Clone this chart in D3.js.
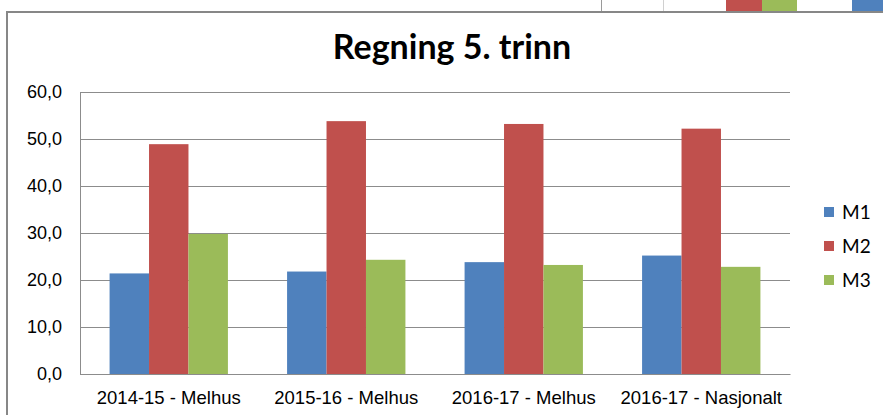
<!DOCTYPE html>
<html>
<head>
<meta charset="utf-8">
<script src="https://cdn.jsdelivr.net/npm/d3@7"></script>
<style>
  body { margin: 0; background: #fff; }
  svg { display: block; font-family: Lato, "Open Sans", sans-serif; }
</style>
</head>
<body>
<script>
// data
var categories = ["2014-15 - Melhus", "2015-16 - Melhus", "2016-17 - Melhus", "2016-17 - Nasjonalt"];
var seriesNames = ["M1", "M2", "M3"];
var m1 = [21.4, 21.8, 23.8, 25.2];
var m2 = [48.9, 53.8, 53.2, 52.2];
var m3 = [29.8, 24.3, 23.2, 22.8];
var yTicks = [0, 10, 20, 30, 40, 50, 60];
var colors = ["#4F81BD", "#C0504D", "#9BBB59"];

var W = 883, H = 415;
var margin = {top: 92, right: 93, bottom: 41, left: 80},
    width = W - margin.left - margin.right,
    height = H - margin.top - margin.bottom;

var svg = d3.select("body").append("svg")
    .attr("width", W)
    .attr("height", H);

// bits of the sheet above the chart
var strip = svg.append("g");
strip.append("line").attr("x1", 601.5).attr("x2", 601.5).attr("y1", 0).attr("y2", 11).attr("stroke", "#9a9a9a");
strip.append("line").attr("x1", 663.5).attr("x2", 663.5).attr("y1", 0).attr("y2", 11).attr("stroke", "#d0d0d0");
strip.append("rect").attr("x", 726).attr("y", 0).attr("width", 36).attr("height", 11).attr("fill", colors[1]);
strip.append("rect").attr("x", 762).attr("y", 0).attr("width", 35).attr("height", 11).attr("fill", colors[2]);
strip.append("rect").attr("x", 852).attr("y", 0).attr("width", 31).attr("height", 11).attr("fill", colors[0]);

// chart frame (top and left visible)
svg.append("path")
    .attr("d", "M7,415 V12 H883")
    .attr("fill", "none")
    .attr("stroke", "#878787")
    .attr("stroke-width", 2);

// title
svg.append("text")
    .attr("x", 452)
    .attr("y", 59)
    .attr("text-anchor", "middle")
    .style("font-size", "34px")
    .style("font-weight", "bold")
    .text("Regning 5. trinn");

var g = svg.append("g")
    .attr("transform", "translate(" + margin.left + "," + margin.top + ")");

var x0 = d3.scaleBand().domain(categories).range([0, width]).paddingInner(0).paddingOuter(0);
var x1 = d3.scaleBand().domain(seriesNames).range([0, x0.bandwidth()]).paddingInner(0).paddingOuter(0.75);
var y = d3.scaleLinear().domain([0, 60]).range([height, 0]);

// gridlines
g.append("g")
    .selectAll("line")
    .data(yTicks)
    .enter().append("line")
    .attr("x1", 0)
    .attr("x2", width)
    .attr("y1", function(d) { return Math.round(y(d)) + 0.5; })
    .attr("y2", function(d) { return Math.round(y(d)) + 0.5; })
    .attr("stroke", "#8c8c8c");

// y axis
var yAxis = g.append("g")
    .call(d3.axisLeft(y).tickValues(yTicks).tickSize(0).tickPadding(18)
        .tickFormat(function(d) { return d3.format(".1f")(d).replace(".", ","); }));
yAxis.select(".domain").remove();
yAxis.selectAll("text").style("font-size", "18px").attr("fill", "#000");

g.append("line")
    .attr("x1", 0.5).attr("x2", 0.5)
    .attr("y1", 0).attr("y2", height)
    .attr("stroke", "#8c8c8c");

// bars
var rows = categories.map(function(c, i) {
    return {cat: c, values: [m1[i], m2[i], m3[i]]};
});

g.append("g")
    .selectAll("g")
    .data(rows)
    .enter().append("g")
    .attr("transform", function(d) { return "translate(" + x0(d.cat) + ",0)"; })
    .selectAll("rect")
    .data(function(d) { return d.values.map(function(v, j) { return {s: seriesNames[j], v: v, j: j}; }); })
    .enter().append("rect")
    .attr("x", function(d) { return x1(d.s); })
    .attr("width", x1.bandwidth())
    .attr("y", function(d) { return y(d.v); })
    .attr("height", function(d) { return height - y(d.v); })
    .attr("fill", function(d) { return colors[d.j]; });

// x axis
var xAxis = g.append("g")
    .attr("transform", "translate(0," + height + ")")
    .call(d3.axisBottom(x0).tickSize(0).tickPadding(17));
xAxis.select(".domain").attr("stroke", "#8c8c8c");
xAxis.selectAll("text").style("font-size", "18.5px").attr("fill", "#000");

// legend
var legend = svg.append("g")
    .selectAll("g")
    .data(seriesNames)
    .enter().append("g")
    .attr("transform", function(d, i) { return "translate(824," + (212 + i * 34) + ")"; });

legend.append("rect")
    .attr("x", 0).attr("y", -5)
    .attr("width", 10).attr("height", 10)
    .attr("fill", function(d, i) { return colors[i]; });

legend.append("text")
    .attr("x", 18)
    .attr("dy", "0.35em")
    .style("font-size", "19px")
    .text(function(d) { return d; });
</script>
</body>
</html>
